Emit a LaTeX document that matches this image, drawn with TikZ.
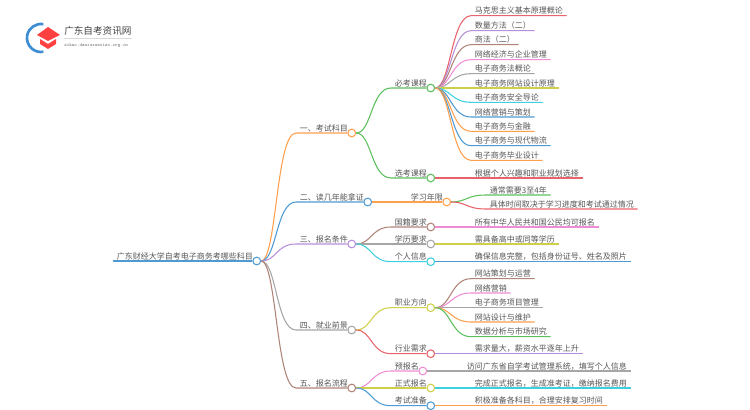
\documentclass[tikz,border=0pt]{standalone}
\usepackage{fontspec}
\setmainfont{Noto Sans CJK SC}
\usepackage{tikz}
\definecolor{mapblue}{HTML}{4E9BD3}
\definecolor{maporange}{HTML}{FFA04D}
\definecolor{mapgreen}{HTML}{5CBF5C}
\definecolor{mapred}{HTML}{E8636A}
\definecolor{mappurple}{HTML}{B58FD9}
\definecolor{mapbrown}{HTML}{B08479}
\definecolor{mappink}{HTML}{F08CD6}
\definecolor{mapgray}{HTML}{A6A6A6}
\definecolor{mapolive}{HTML}{CFCF4A}
\definecolor{mapcyan}{HTML}{3FD0E0}
\definecolor{maptext}{HTML}{555555}

\begin{document}
\begin{tikzpicture}[x=0.75pt,y=-0.75pt]
\tikzstyle{leaf}=[anchor=south west,inner xsep=2.7pt,inner ysep=0.3pt,text height=5.4pt,text depth=0.9pt,text=maptext,font=\fontsize{6}{7}\selectfont]
\tikzstyle{dot}=[circle,draw,fill=white,line width=0.8pt,inner sep=0pt,minimum size=5.8pt]
\tikzstyle{link}=[line width=0.8pt]
\useasboundingbox (0,0) rectangle (750,410);

% Logo
\draw[line width=2pt,color=cyan!60!blue!80!white] (43.4,24.2) arc (-80:-280:14);
\fill[color=red!75!white] (37,35) -- (48,27) -- (60,35) -- (48,41) -- cycle;
\fill[color=red!75!white] (40,39) -- (48,44) -- (56,39) -- (56,44) -- (48,49) -- (40,44) -- cycle;
\node (LOGO) [anchor=west,inner xsep=0pt,inner ysep=1.5pt,text=black!75,font=\fontsize{7.2}{8}\selectfont] at (64,31) {广东自考资讯网};
\node (SITE) [anchor=west,inner sep=0pt,text=black!55,font=\fontsize{3.6}{4}\ttfamily] at (64,46) {zikao.daniuxuexiao.org.cn};
\draw[black!15,line width=0.3pt] (LOGO.south west) -- (LOGO.south east);

% Root and first level
\node (R) [leaf] at (113,261) {广东财经大学自考电子商务考哪些科目};
\node (A) [leaf] at (296,133) {一、考试科目};
\node (B) [leaf] at (296,202) {二、读几年能拿证};
\node (C) [leaf] at (296,244) {三、报名条件};
\node (D) [leaf] at (296,330) {四、就业前景};
\node (E) [leaf] at (296,388) {五、报名流程};
\node (Rd) [dot,draw=mapblue] at (R.south east) {};
\node (Ad) [dot,draw=maporange] at (A.south east) {};
\node (Bd) [dot,draw=mapblue] at (B.south east) {};
\node (Cd) [dot,draw=mappurple] at (C.south east) {};
\node (Dd) [dot,draw=mapgray] at (D.south east) {};
\node (Ed) [dot,draw=mapbrown] at (E.south east) {};

% Second level
\node (AA) [leaf] at (391,88) {必考课程};
\node (AB) [leaf] at (391,178) {选考课程};
\node (BA) [leaf] at (407,202) {学习年限};
\node (CA) [leaf] at (391,227) {国籍要求};
\node (CB) [leaf] at (391,244) {学历要求};
\node (CC) [leaf] at (391,261.7) {个人信息};
\node (DA) [leaf] at (391,307.7) {职业方向};
\node (DB) [leaf] at (391,353.7) {行业需求};
\node (EA) [leaf] at (391,371) {预报名};
\node (EB) [leaf] at (391,388) {正式报名};
\node (EC) [leaf] at (391,405.7) {考试准备};
\node (AAd) [dot,draw=mapgreen] at (AA.south east) {};
\node (ABd) [dot,draw=mapgreen] at (AB.south east) {};
\node (BAd) [dot,draw=maporange] at (BA.south east) {};
\node (CAd) [dot,draw=mapbrown] at (CA.south east) {};
\node (CBd) [dot,draw=mapgray] at (CB.south east) {};
\node (CCd) [dot,draw=mapcyan] at (CC.south east) {};
\node (DAd) [dot,draw=mapolive] at (DA.south east) {};
\node (DBd) [dot,draw=mapred] at (DB.south east) {};
\node (EAd) [dot,draw=mappink] at (EA.south east) {};
\node (EBd) [dot,draw=mapolive] at (EB.south east) {};
\node (ECd) [dot,draw=mapblue] at (EC.south east) {};

% Leaves
\node (AA1) [leaf] at (471,15.7) {马克思主义基本原理概论};
\node (AA2) [leaf] at (471,30.7) {数量方法（二）};
\node (AA3) [leaf] at (471,44.7) {商法（二）};
\node (AA4) [leaf] at (471,59.7) {网络经济与企业管理};
\node (AA5) [leaf] at (471,73.7) {电子商务法概论};
\node (AA6) [leaf] at (471,88) {电子商务网站设计原理};
\node (AA7) [leaf] at (471,102.3) {电子商务安全导论};
\node (AA8) [leaf] at (471,117) {网络营销与策划};
\node (AA9) [leaf] at (471,131.3) {电子商务与金融};
\node (AA10) [leaf] at (471,145.7) {电子商务与现代物流};
\node (AA11) [leaf] at (471,160.3) {电子商务毕业设计};
\node (AB1) [leaf] at (471,178) {根据个人兴趣和职业规划选择};
\node (BA1) [leaf] at (486,195) {通常需要3至4年};
\node (BA2) [leaf] at (486,209) {具体时间取决于学习进度和考试通过情况};
\node (CA1) [leaf] at (471,227) {所有中华人民共和国公民均可报名};
\node (CB1) [leaf] at (471,244) {需具备高中或同等学历};
\node (CC1) [leaf] at (471,261.7) {确保信息完整，包括身份证号、姓名及照片};
\node (DA1) [leaf] at (471,278.7) {网站策划与运营};
\node (DA2) [leaf] at (471,293) {网络营销};
\node (DA3) [leaf] at (471,307.7) {电子商务项目管理};
\node (DA4) [leaf] at (471,322) {网站设计与维护};
\node (DA5) [leaf] at (471,336.7) {数据分析与市场研究};
\node (DB1) [leaf] at (471,353.7) {需求量大，薪资水平逐年上升};
\node (EA1) [leaf] at (463,371) {访问广东省自学考试管理系统，填写个人信息};
\node (EB1) [leaf] at (471,388) {完成正式报名，生成准考证，缴纳报名费用};
\node (EC1) [leaf] at (471,405.7) {积极准备各科目，合理安排复习时间};

% Root branches
\draw[link,mapblue] (R.south west) -- (Rd);
\draw[link,maporange] (Rd) .. controls +(right:20) and +(left:20) .. (A.south west) -- (Ad);
\draw[link,mapblue] (Rd) .. controls +(right:20) and +(left:20) .. (B.south west) -- (Bd);
\draw[link,mappurple] (Rd) .. controls +(right:20) and +(left:20) .. (C.south west) -- (Cd);
\draw[link,mapgray] (Rd) .. controls +(right:20) and +(left:20) .. (D.south west) -- (Dd);
\draw[link,mapbrown] (Rd) .. controls +(right:20) and +(left:20) .. (E.south west) -- (Ed);

% Second level branches
\draw[link,mapgreen] (Ad) .. controls +(right:20) and +(left:20) .. (AA.south west) -- (AAd);
\draw[link,mapgreen] (Ad) .. controls +(right:20) and +(left:20) .. (AB.south west) -- (ABd);
\draw[link,maporange] (Bd) -- (BA.south west) -- (BAd);
\draw[link,mapbrown] (Cd) .. controls +(right:20) and +(left:20) .. (CA.south west) -- (CAd);
\draw[link,mapgray] (Cd) -- (CB.south west) -- (CBd);
\draw[link,mapcyan] (Cd) .. controls +(right:20) and +(left:20) .. (CC.south west) -- (CCd);
\draw[link,mapolive] (Dd) .. controls +(right:20) and +(left:20) .. (DA.south west) -- (DAd);
\draw[link,mapred] (Dd) .. controls +(right:20) and +(left:20) .. (DB.south west) -- (DBd);
\draw[link,mappink] (Ed) .. controls +(right:20) and +(left:20) .. (EA.south west) -- (EAd);
\draw[link,mapolive] (Ed) -- (EB.south west) -- (EBd);
\draw[link,mapblue] (Ed) .. controls +(right:20) and +(left:20) .. (EC.south west) -- (ECd);

% Leaf branches
\draw[link,mapred] (AAd) .. controls +(right:20) and +(left:20) .. (AA1.south west) -- (AA1.south east);
\draw[link,mappurple] (AAd) .. controls +(right:20) and +(left:20) .. (AA2.south west) -- (AA2.south east);
\draw[link,mapbrown] (AAd) .. controls +(right:20) and +(left:20) .. (AA3.south west) -- (AA3.south east);
\draw[link,mappink] (AAd) .. controls +(right:20) and +(left:20) .. (AA4.south west) -- (AA4.south east);
\draw[link,mapgray] (AAd) .. controls +(right:20) and +(left:20) .. (AA5.south west) -- (AA5.south east);
\draw[link,mapolive] (AAd) -- (AA6.south west) -- (AA6.south east);
\draw[link,mapcyan] (AAd) .. controls +(right:20) and +(left:20) .. (AA7.south west) -- (AA7.south east);
\draw[link,mapblue] (AAd) .. controls +(right:20) and +(left:20) .. (AA8.south west) -- (AA8.south east);
\draw[link,maporange] (AAd) .. controls +(right:20) and +(left:20) .. (AA9.south west) -- (AA9.south east);
\draw[link,mapblue] (AAd) .. controls +(right:20) and +(left:20) .. (AA10.south west) -- (AA10.south east);
\draw[link,maporange] (AAd) .. controls +(right:20) and +(left:20) .. (AA11.south west) -- (AA11.south east);
\draw[link,mapred] (ABd) -- (AB1.south west) -- (AB1.south east);
\draw[link,mapgreen] (BAd) .. controls +(right:20) and +(left:20) .. (BA1.south west) -- (BA1.south east);
\draw[link,mapred] (BAd) .. controls +(right:20) and +(left:20) .. (BA2.south west) -- (BA2.south east);
\draw[link,mappink] (CAd) -- (CA1.south west) -- (CA1.south east);
\draw[link,mapolive] (CBd) -- (CB1.south west) -- (CB1.south east);
\draw[link,mapblue] (CCd) -- (CC1.south west) -- (CC1.south east);
\draw[link,mapbrown] (DAd) .. controls +(right:20) and +(left:20) .. (DA1.south west) -- (DA1.south east);
\draw[link,mappink] (DAd) .. controls +(right:20) and +(left:20) .. (DA2.south west) -- (DA2.south east);
\draw[link,mapgray] (DAd) -- (DA3.south west) -- (DA3.south east);
\draw[link,maporange] (DAd) .. controls +(right:20) and +(left:20) .. (DA4.south west) -- (DA4.south east);
\draw[link,mapgreen] (DAd) .. controls +(right:20) and +(left:20) .. (DA5.south west) -- (DA5.south east);
\draw[link,mappurple] (DBd) -- (DB1.south west) -- (DB1.south east);
\draw[link,mapgray] (EAd) -- (EA1.south west) -- (EA1.south east);
\draw[link,mapcyan] (EBd) -- (EB1.south west) -- (EB1.south east);
\draw[link,maporange] (ECd) -- (EC1.south west) -- (EC1.south east);

\end{tikzpicture}
\end{document}
